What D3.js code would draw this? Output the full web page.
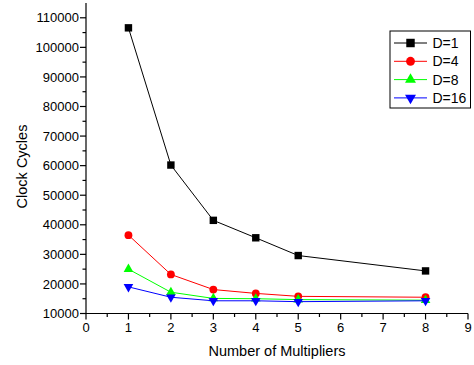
<!DOCTYPE html>
<html>
<head>
<meta charset="utf-8">
<script src="https://cdn.jsdelivr.net/npm/d3@7"></script>
<style>
  body { margin: 0; background: #fff; }
  text { font-family: "Liberation Sans", Arial, sans-serif; }
</style>
</head>
<body>
<svg id="chart" width="474" height="365"></svg>
<script>
// data
const multipliers = [1, 2, 3, 4, 5, 8];
const seriesNames = ["D=1", "D=4", "D=8", "D=16"];
const d1 = [106600, 60200, 41500, 35600, 29600, 24400];
const d4 = [36500, 23200, 18100, 16800, 15800, 15500];
const d8 = [25000, 17200, 15100, 15000, 14700, 14500];
const d16 = [19000, 15500, 14300, 14300, 14000, 14300];
const xTicks = [0, 1, 2, 3, 4, 5, 6, 7, 8, 9];
const yTicks = [10000, 20000, 30000, 40000, 50000, 60000, 70000, 80000, 90000, 100000, 110000];

const colors = ["#000000", "#ff0000", "#00ff00", "#0000ff"];
const symbols = [d3.symbolSquare, d3.symbolCircle, d3.symbolTriangle, d3.symbolTriangle];
const symSizes = [55, 48, 40, 40];
const rotations = [0, 0, 0, 180];

const allSeries = [d1, d4, d8, d16];

const svg = d3.select("#chart");
const mLeft = 86, mRight = 468, mTop = 3, mBottom = 313.5;

const x = d3.scaleLinear().domain([0, 9]).range([mLeft, mRight]);
const y = d3.scaleLinear().domain([10000, 115000]).range([mBottom, mTop]);

// x axis
const xAxis = svg.append("g").attr("transform", "translate(0," + mBottom + ")");
xAxis.append("line").attr("x1", mLeft).attr("x2", mRight).attr("stroke", "#000").attr("stroke-width", 1.2);
xAxis.selectAll(".maj").data(xTicks).enter().append("line")
  .attr("x1", d => x(d)).attr("x2", d => x(d)).attr("y1", 0).attr("y2", 6)
  .attr("stroke", "#000").attr("stroke-width", 1.2);
xAxis.selectAll(".min").data(d3.range(0.5, 9, 1)).enter().append("line")
  .attr("x1", d => x(d)).attr("x2", d => x(d)).attr("y1", 0).attr("y2", 3.5)
  .attr("stroke", "#000").attr("stroke-width", 1.2);
xAxis.selectAll(".lab").data(xTicks).enter().append("text")
  .attr("x", d => x(d)).attr("y", 18.5)
  .attr("text-anchor", "middle").style("font-size", "13px")
  .text(d => d);

// y axis
const yAxis = svg.append("g").attr("transform", "translate(" + mLeft + ",0)");
yAxis.append("line").attr("y1", mTop).attr("y2", mBottom).attr("stroke", "#000").attr("stroke-width", 1.2);
yAxis.selectAll(".maj").data(yTicks).enter().append("line")
  .attr("y1", d => y(d)).attr("y2", d => y(d)).attr("x1", 0).attr("x2", -6)
  .attr("stroke", "#000").attr("stroke-width", 1.2);
yAxis.selectAll(".min").data(d3.range(15000, 115000, 10000)).enter().append("line")
  .attr("y1", d => y(d)).attr("y2", d => y(d)).attr("x1", 0).attr("x2", -3.5)
  .attr("stroke", "#000").attr("stroke-width", 1.2);
yAxis.selectAll(".lab").data(yTicks).enter().append("text")
  .attr("x", -7).attr("y", d => y(d)).attr("dy", "0.36em")
  .attr("text-anchor", "end").style("font-size", "13px")
  .text(d => d);

// titles
svg.append("text").attr("x", 277).attr("y", 356)
  .attr("text-anchor", "middle").style("font-size", "14.5px")
  .text("Number of Multipliers");
svg.append("text").attr("transform", "translate(26.5,166.5) rotate(-90)")
  .attr("text-anchor", "middle").style("font-size", "14.5px")
  .text("Clock Cycles");

// series
const line = d3.line().x((d, i) => x(multipliers[i])).y(d => y(d));
allSeries.forEach((s, k) => {
  svg.append("path").datum(s).attr("d", line)
    .attr("fill", "none").attr("stroke", colors[k]).attr("stroke-width", 1);
  svg.selectAll(".pt" + k).data(s).enter().append("path")
    .attr("d", d3.symbol().type(symbols[k]).size(symSizes[k]))
    .attr("transform", (d, i) => "translate(" + x(multipliers[i]) + "," + y(d) + ") rotate(" + rotations[k] + ")")
    .attr("fill", colors[k]);
});

// legend
const lg = svg.append("g");
lg.append("rect").attr("x", 390).attr("y", 31).attr("width", 80.5).attr("height", 77)
  .attr("fill", "#fff").attr("stroke", "#000").attr("stroke-width", 1);
seriesNames.forEach((name, k) => {
  const ry = 43 + k * 18.3;
  lg.append("line").attr("x1", 394).attr("x2", 427).attr("y1", ry).attr("y2", ry)
    .attr("stroke", colors[k]).attr("stroke-width", 1);
  lg.append("path").attr("d", d3.symbol().type(symbols[k]).size(symSizes[k] * 1.3))
    .attr("transform", "translate(410.5," + ry + ") rotate(" + rotations[k] + ")")
    .attr("fill", colors[k]);
  lg.append("text").attr("x", 432.5).attr("y", ry).attr("dy", "0.36em")
    .style("font-size", "14px").text(name);
});
</script>
</body>
</html>
